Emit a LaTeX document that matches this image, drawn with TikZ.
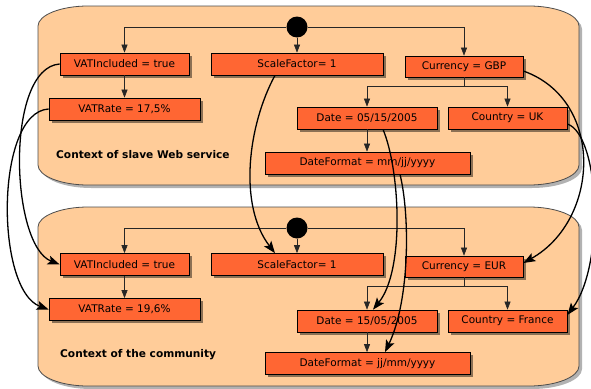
\documentclass[tikz,border=0pt]{standalone}
\usepackage{fontspec}
\setmainfont{DejaVu Sans}
\usetikzlibrary{arrows.meta,shadows}

\definecolor{ctxfill}{RGB}{255,204,153}
\definecolor{attrfill}{RGB}{255,102,51}

% outline of a context, #1 = top, #2 = bottom
\newcommand{\ctxpath}[2]{(38,#1+20) .. controls (38,#1+9) and (61,#1) .. (88,#1)
  -- (529,#1) .. controls (556,#1) and (579,#1+9) .. (579,#1+20)
  -- (579,#2-20) .. controls (579,#2-9) and (556,#2) .. (529,#2)
  -- (88,#2) .. controls (61,#2) and (38,#2-9) .. (38,#2-20) -- cycle}

\begin{document}
\begin{tikzpicture}[x=1pt, y=-1pt,
    font=\fontsize{10.5}{12}\selectfont,
    ctx/.style={fill=ctxfill, draw=black!70, line width=0.8pt},
    attr/.style={draw=black, line width=0.7pt, fill=attrfill, minimum height=22pt, inner sep=0pt,
        drop shadow={shadow xshift=2.5pt, shadow yshift=-2.5pt, fill=black, opacity=0.45}},
    init/.style={circle, fill=black, minimum size=21pt, inner sep=0pt},
    flow/.style={-{Triangle[length=8pt,width=6pt]}, black!85, line width=0.6pt},
    map/.style={-{Stealth[length=12pt,width=9pt,inset=2.5pt]}, line width=1.3pt},
    title/.style={font=\fontsize{10.6}{12}\selectfont\bfseries, anchor=west, inner sep=0pt}
]
    \useasboundingbox (0,0) rectangle (591,388);

    \fill[black!30, shift={(3,3)}] \ctxpath{6}{185};
    \path[ctx] \ctxpath{6}{185};
    \fill[black!30, shift={(3,3)}] \ctxpath{207}{386};
    \path[ctx] \ctxpath{207}{386};

    \node[title] (lbl1) at (56,155) {Context of slave Web service};
    \node[title] (lbl2) at (60,355) {Context of the community};

    \node[init] (init1) at (297,27) {};
    \node[attr, minimum width=129pt] (vat1) at (124.5,64) {VATIncluded = true};
    \node[attr, minimum width=151pt] (rate1) at (124.5,109) {VATRate = 17,5\%};
    \node[attr, minimum width=172pt] (scale1) at (297,64) {ScaleFactor= 1};
    \node[attr, minimum width=118pt, minimum height=21pt] (cur1) at (464,66.5) {Currency = GBP};
    \node[attr, minimum width=140pt] (date1) at (367,118) {Date = 05/15/2005};
    \node[attr, minimum width=119pt] (ctry1) at (507.5,118) {Country = UK};
    \node[attr, minimum width=205pt] (fmt1) at (367.5,163) {DateFormat = mm/jj/yyyy};

    \node[init] (init2) at (297,228) {};
    \node[attr, minimum width=129pt] (vat2) at (124.5,264.5) {VATIncluded = true};
    \node[attr, minimum width=151pt] (rate2) at (124.5,309.5) {VATRate = 19,6\%};
    \node[attr, minimum width=172pt] (scale2) at (297,264.5) {ScaleFactor= 1};
    \node[attr, minimum width=118pt, minimum height=21pt] (cur2) at (464,266.5) {Currency = EUR};
    \node[attr, minimum width=140pt] (date2) at (367,321) {Date = 15/05/2005};
    \node[attr, minimum width=119pt] (ctry2) at (507.5,321) {Country = France};
    \node[attr, minimum width=205pt] (fmt2) at (367.5,363.5) {DateFormat = jj/mm/yyyy};

    \foreach \i in {1,2} {
        \draw[flow] (init\i.west) -| (vat\i.north);
        \draw[flow] (init\i.south) -- (scale\i.north);
        \draw[flow] (init\i.east) -| (cur\i.north);
        \draw[flow] (vat\i) -- (rate\i);
        \draw[flow] (cur\i.south) -- ++(0,9) -| (date\i.north);
        \draw[flow] (cur\i.south) -- ++(0,9) -| (ctry\i.north);
        \draw[flow] (date\i.south) -- (date\i.south |- fmt\i.north);
    }

    \draw[map] (vat1.west) .. controls (5,68) and (10,245) .. (vat2.west);
    \draw[map] (rate1.west) .. controls (-5,112) and (-5,290) .. (rate2.west);
    \draw[map] ([xshift=-22pt]scale1.south) .. controls (248,125) and (238,205) .. ([xshift=-22pt]scale2.north);
    \draw[map] ([yshift=-4.5pt]cur1.east) .. controls (605,100) and (600,220) .. ([yshift=3.5pt]cur2.east);
    \draw[map] ([yshift=-6pt]ctry1.east) .. controls (600,135) and (605,265) .. ([yshift=6pt]ctry2.east);
    \draw[map] ([xshift=16pt]date1.south) .. controls (400,170) and (405,270) .. ([xshift=6pt]date2.north);
    \draw[map] ([xshift=32.5pt]fmt1.south) .. controls (410,215) and (410,300) .. ([xshift=17.5pt]fmt2.north);
\end{tikzpicture}
\end{document}
